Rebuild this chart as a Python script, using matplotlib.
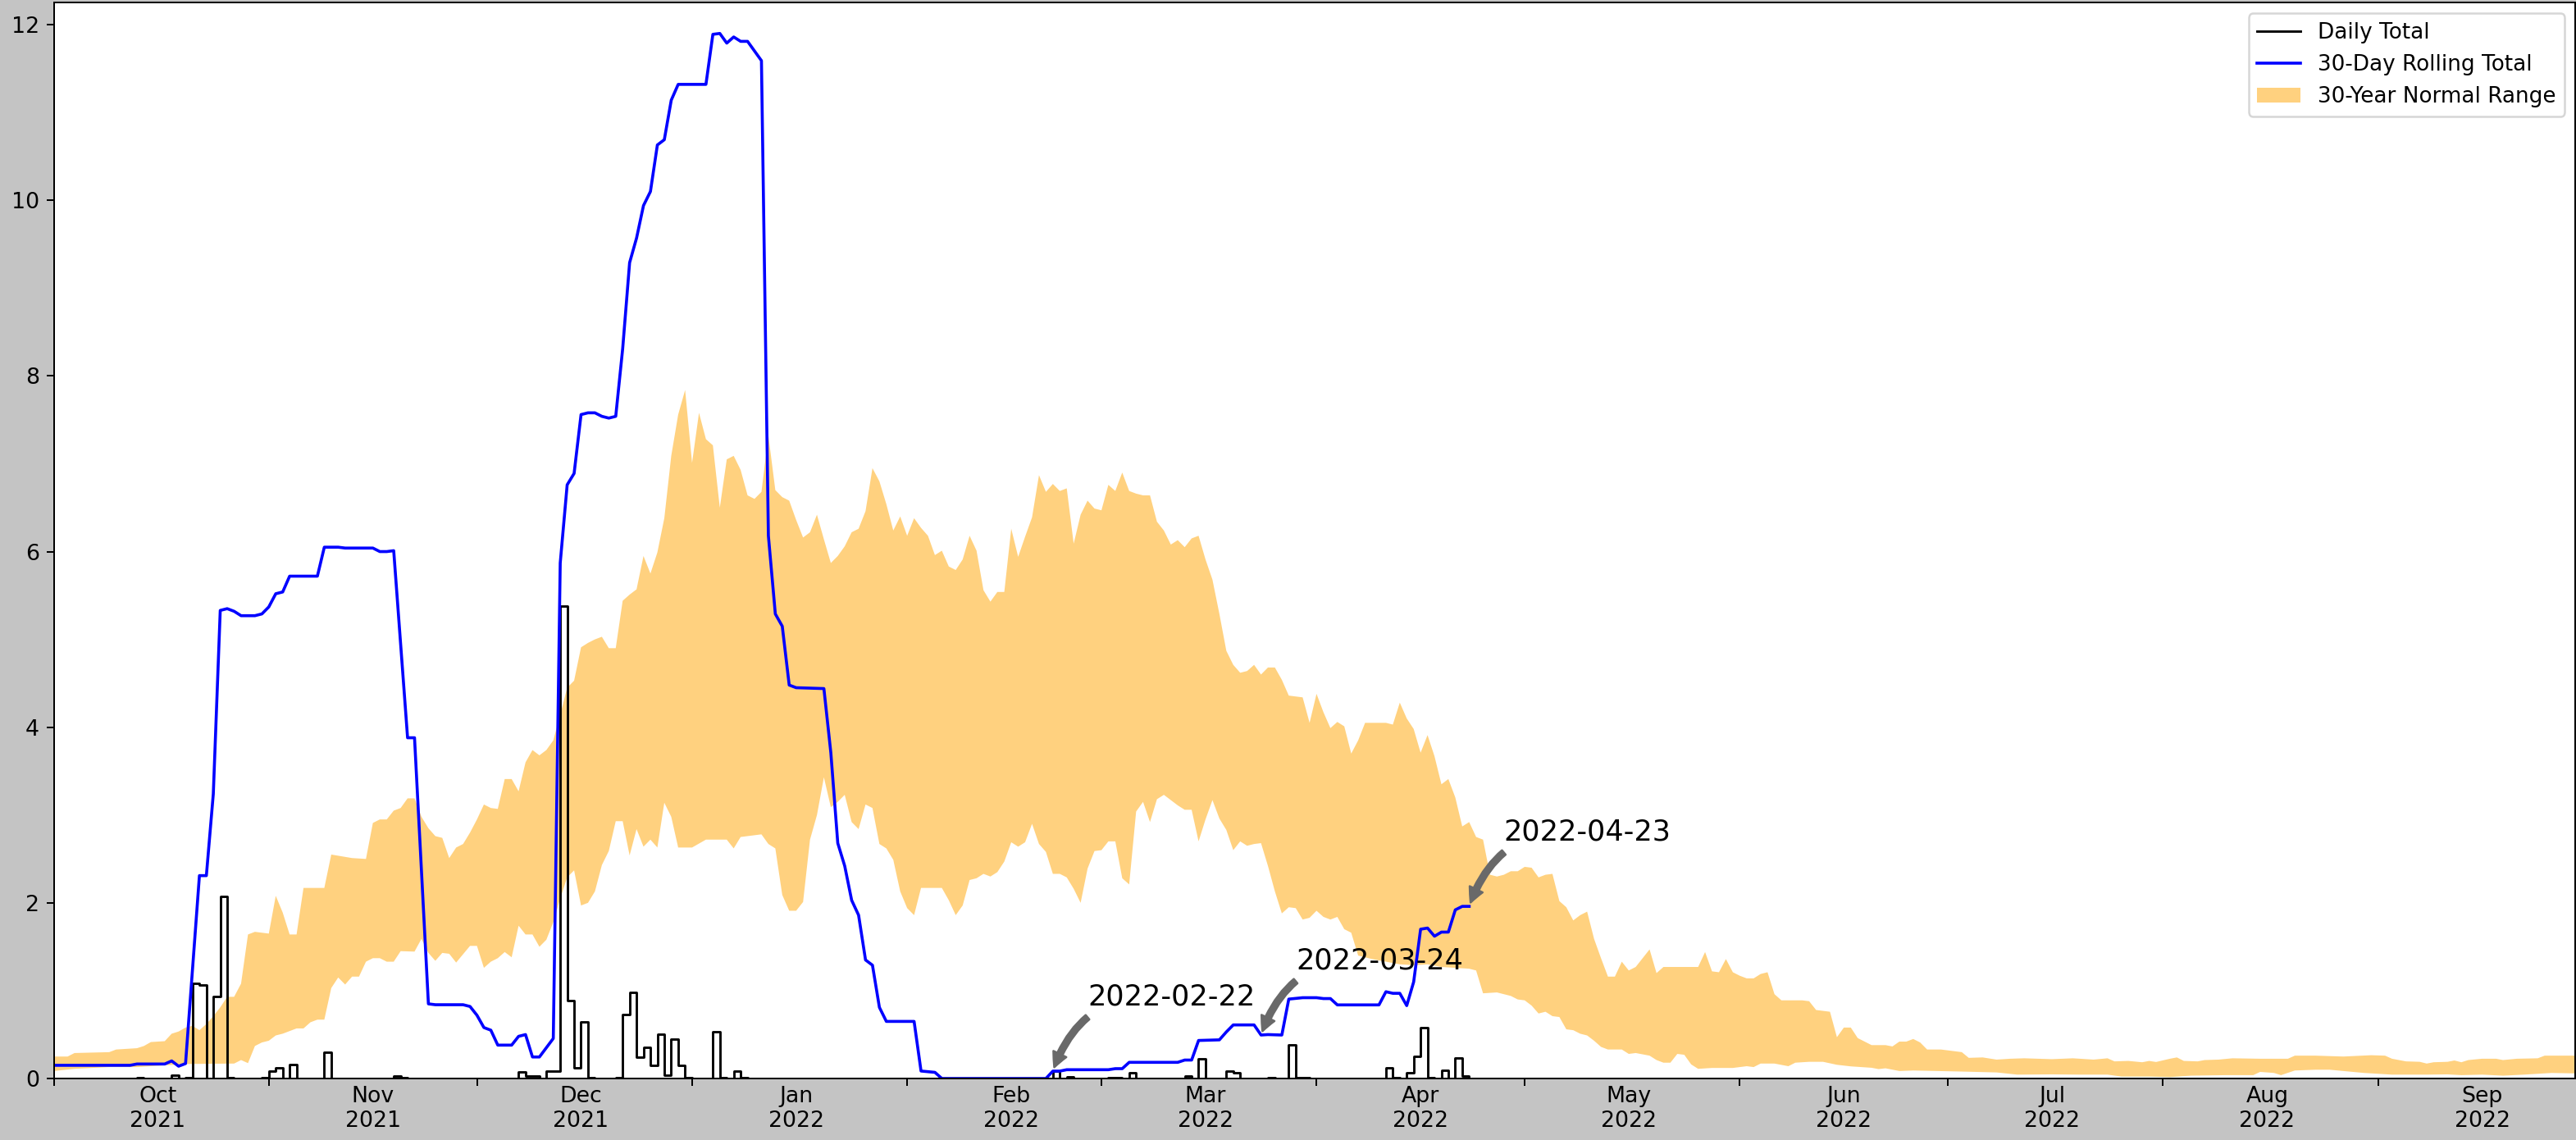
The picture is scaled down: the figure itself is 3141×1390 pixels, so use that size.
import numpy as np
import pandas as pd
import matplotlib
matplotlib.use("Agg")
import matplotlib.pyplot as plt
import matplotlib.dates as mdates
from matplotlib.ticker import MultipleLocator, NullFormatter

# ---------------- data (day offsets from 2021-10-01) ----------------
START = "2021-10-01"
LAST_DAY = 204          # last observed day (2022-04-23)
X_END_DAY = 363.4

rain_days = [12, 17, 19, 20, 21, 23, 24, 25, 30, 31, 32, 34, 39, 49, 50,
             67, 68, 69, 71, 72, 73, 74, 75, 76, 77, 81, 82, 83, 84, 85, 86,
             87, 88, 89, 90, 91, 95, 96, 98, 99,
             144, 146, 152, 153, 155, 163, 165, 169, 170, 175, 178, 179, 180,
             192, 193, 195, 196, 197, 198, 200, 202, 203]
rain_vals = [0.01, 0.035, 0.01, 1.08, 1.06, 0.93, 2.07, 0.005, 0.01, 0.08, 0.125, 0.155, 0.30, 0.025, 0.01,
             0.075, 0.03, 0.03, 0.085, 0.085, 5.38, 0.89, 0.12, 0.645, 0.01, 0.005, 0.73, 0.98, 0.24, 0.355, 0.15,
             0.505, 0.04, 0.45, 0.15, 0.01, 0.53, 0.01, 0.08, 0.005,
             0.08, 0.015, 0.01, 0.01, 0.065, 0.025, 0.22, 0.087, 0.065, 0.01, 0.38, 0.01, 0.01,
             0.125, 0.01, 0.065, 0.25, 0.575, 0.01, 0.095, 0.235, 0.03]

roll_days = [0, 11, 12, 16, 17, 18, 19, 21, 22, 23, 24, 25, 26, 27, 29, 30, 31, 32, 33, 34, 38, 39,
             41, 42, 46, 47, 48, 49, 51, 52, 54, 55, 59, 60, 61, 62, 63, 64, 66, 67, 68, 69, 70,
             72, 73, 74, 75, 76, 77, 78, 79, 80, 81, 82, 83, 84, 85, 86, 87, 88, 89, 90, 94, 95,
             96, 97, 98, 99, 100, 102, 103, 104, 105, 106, 107, 111, 112, 113, 114, 115, 116, 117,
             118, 119, 120, 124, 125, 127, 128, 143, 144, 145, 146, 152, 153, 154, 155, 162, 163,
             164, 165, 168, 169, 170, 173, 174, 175, 177, 178, 180, 182, 183, 184, 185, 191, 192,
             193, 194, 195, 196, 197, 198, 199, 200, 201, 202, 203, 204]
roll_vals = [0.15, 0.15, 0.165, 0.165, 0.20, 0.14, 0.17, 2.31, 2.31, 3.24, 5.33, 5.35, 5.32, 5.27, 5.27, 5.29, 5.37, 5.52, 5.54, 5.72, 5.72, 6.05,
             6.05, 6.04, 6.04, 6.00, 6.00, 6.01, 3.88, 3.88, 0.85, 0.84, 0.84, 0.82, 0.72, 0.58, 0.55, 0.38, 0.38, 0.48, 0.50, 0.245, 0.245,
             0.456, 5.87, 6.76, 6.89, 7.56, 7.58, 7.58, 7.54, 7.52, 7.54, 8.31, 9.29, 9.57, 9.94, 10.10, 10.63, 10.69, 11.14, 11.32, 11.32, 11.89,
             11.90, 11.79, 11.86, 11.81, 11.81, 11.59, 6.18, 5.29, 5.15, 4.48, 4.45, 4.44, 3.71, 2.68, 2.42, 2.03, 1.86, 1.35,
             1.29, 0.81, 0.65, 0.65, 0.085, 0.07, 0.0, 0.0, 0.084, 0.084, 0.10, 0.10, 0.112, 0.112, 0.184, 0.184, 0.21,
             0.21, 0.433, 0.44, 0.53, 0.61, 0.61, 0.495, 0.50, 0.495, 0.904, 0.92, 0.92, 0.91, 0.91, 0.838, 0.838, 0.988,
             0.97, 0.97, 0.83, 1.10, 1.70, 1.713, 1.62, 1.667, 1.667, 1.92, 1.96, 1.96]

upper_days = [0, 2, 3, 8, 9, 12, 13, 14, 16, 17, 18, 19, 20, 21, 22, 23, 24, 25, 26, 27, 28, 29, 31, 32, 33, 34, 35, 36, 39,
              40, 43, 45, 46, 47, 48, 49, 50, 51, 52, 53, 54, 55, 56, 57, 58, 59, 60, 61, 62, 63, 64, 65, 66, 67, 68, 69, 70,
              71, 72, 73, 74, 75, 76, 77, 78, 79, 80, 81, 82, 83, 84, 85, 86, 87, 88, 89, 90, 91, 92, 93, 94, 95, 96, 97,
              98, 99, 100, 101, 102, 103, 104, 105, 106, 107, 108, 109, 110, 111, 112, 113, 114, 115, 116, 117, 118, 119,
              120, 121, 122, 123, 124, 125, 126, 127, 128, 129, 130, 131, 132, 133, 134, 135, 136, 137, 138, 139, 140, 141,
              142, 143, 144, 145, 146, 147, 148, 149, 150, 151, 152, 153, 154, 155, 156, 157, 158, 159, 160, 161, 162, 163,
              164, 165, 166, 167, 168, 169, 170, 171, 172, 173, 174, 175, 176, 177, 178, 179, 180, 181, 182, 183, 184, 185,
              186, 187, 188, 189, 192, 193, 194, 195, 196, 197, 198, 199, 200, 201, 202, 203, 204, 205, 206, 207, 208, 209,
              210, 211, 212, 213, 214, 215, 216, 217, 218, 219, 220, 221, 222, 223, 224, 225, 226, 227, 228, 229, 230, 231,
              232, 237, 238, 239, 240, 241, 242, 243, 244, 245, 246, 247, 248, 249, 252, 253, 254, 256, 257, 258, 259, 260,
              262, 264, 265, 266, 267, 268, 269, 270, 272, 275, 276, 278, 280, 282, 284, 288, 291, 294, 296, 297, 299, 301,
              302, 303, 305, 306, 307, 309, 310, 312, 314, 318, 322, 323, 326, 330, 334, 336, 337, 339, 341, 342, 343, 345,
              346, 347, 348, 350, 352, 353, 355, 358, 359, 364]
upper_vals = [0.25, 0.25, 0.29, 0.30, 0.33, 0.345, 0.37, 0.415, 0.425, 0.51, 0.535, 0.58, 0.60, 0.55, 0.62, 0.71, 0.81, 0.93, 0.93, 1.08, 1.64, 1.67, 1.65, 2.08, 1.89, 1.64, 1.64, 2.17, 2.17,
              2.55, 2.51, 2.50, 2.91, 2.95, 2.95, 3.05, 3.08, 3.19, 3.19, 2.98, 2.85, 2.76, 2.74, 2.51, 2.63, 2.67, 2.80, 2.95, 3.12, 3.08, 3.07, 3.41, 3.41, 3.27, 3.60, 3.74, 3.68,
              3.74, 3.85, 4.14, 4.45, 4.53, 4.91, 4.96, 5.00, 5.03, 4.90, 4.90, 5.44, 5.51, 5.57, 5.95, 5.75, 5.99, 6.38, 7.09, 7.56, 7.84, 7.01, 7.58, 7.28, 7.21, 6.50, 7.05,
              7.09, 6.93, 6.64, 6.60, 6.68, 7.32, 6.70, 6.62, 6.58, 6.36, 6.16, 6.22, 6.42, 6.14, 5.87, 5.95, 6.06, 6.22, 6.26, 6.46, 6.95, 6.80,
              6.54, 6.24, 6.40, 6.18, 6.38, 6.27, 6.18, 5.96, 6.01, 5.83, 5.79, 5.91, 6.18, 6.01, 5.56, 5.43, 5.54, 5.54, 6.26, 5.94, 6.17, 6.39,
              6.87, 6.68, 6.77, 6.69, 6.72, 6.09, 6.42, 6.58, 6.49, 6.47, 6.76, 6.69, 6.90, 6.69, 6.66, 6.64, 6.64, 6.34, 6.24, 6.08, 6.13, 6.05,
              6.15, 6.18, 5.91, 5.68, 5.29, 4.87, 4.71, 4.62, 4.64, 4.71, 4.60, 4.68, 4.68, 4.54, 4.36, 4.35, 4.34, 4.05, 4.38, 4.17, 3.99, 4.06,
              4.01, 3.70, 3.85, 4.05, 4.05, 4.03, 4.28, 4.10, 3.98, 3.71, 3.91, 3.67, 3.35, 3.41, 3.20, 2.87, 2.92, 2.75, 2.72, 2.32, 2.30, 2.32,
              2.36, 2.36, 2.41, 2.40, 2.29, 2.32, 2.33, 2.02, 1.95, 1.80, 1.86, 1.90, 1.59, 1.37, 1.16, 1.16, 1.33, 1.23, 1.27, 1.37, 1.47, 1.20,
              1.27, 1.27, 1.44, 1.22, 1.21, 1.36, 1.21, 1.17, 1.14, 1.14, 1.19, 1.21, 0.96, 0.89, 0.89, 0.88, 0.78, 0.76, 0.47, 0.58, 0.58, 0.46,
              0.38, 0.38, 0.365, 0.42, 0.42, 0.45, 0.41, 0.33, 0.33, 0.30, 0.235, 0.24, 0.215, 0.225, 0.23, 0.22, 0.23, 0.215, 0.23, 0.195, 0.20, 0.185,
              0.20, 0.188, 0.225, 0.24, 0.20, 0.195, 0.21, 0.215, 0.23, 0.225, 0.225, 0.26, 0.26, 0.25, 0.265, 0.26, 0.225, 0.195, 0.19, 0.17, 0.185, 0.19,
              0.205, 0.185, 0.21, 0.225, 0.225, 0.21, 0.225, 0.23, 0.26, 0.26]

lower_days = [0, 3, 8, 12, 16, 19, 26, 27, 28, 29, 30, 31, 32, 33, 34, 35, 36, 37, 38, 39, 40, 41, 42, 43, 44, 45, 46, 47,
              48, 49, 50, 52, 53, 54, 55, 56, 57, 58, 59, 60, 61, 62, 63, 64, 65, 66, 67, 68, 69, 70, 71, 72, 73, 74, 75,
              76, 77, 78, 79, 80, 81, 82, 83, 84, 85, 86, 87, 88, 89, 90, 92, 94, 97, 98, 99, 102, 103, 104, 105, 106, 107,
              108, 109, 110, 111, 112, 113, 114, 115, 116, 117, 118, 119, 120, 121, 122, 123, 124, 125, 128, 129, 130, 131,
              132, 133, 134, 135, 136, 137, 138, 139, 140, 141, 142, 143, 144, 145, 146, 147, 148, 149, 150, 151, 152, 153,
              154, 155, 156, 157, 158, 159, 160, 161, 162, 163, 164, 165, 166, 167, 168, 169, 170, 171, 172, 173, 174, 175,
              176, 177, 178, 179, 180, 181, 182, 183, 184, 185, 186, 187, 188, 190, 192, 194, 196, 198, 200, 202, 204, 205,
              206, 208, 210, 211, 212, 213, 214, 215, 216, 217, 218, 219, 220, 221, 222, 223, 224, 226, 227, 228, 230, 231,
              232, 233, 234, 235, 236, 237, 239, 242, 244, 245, 246, 248, 250, 251, 253, 255, 257, 259, 262, 263, 264, 266,
              268, 275, 280, 283, 288, 292, 296, 298, 302, 305, 308, 313, 317, 318, 320, 321, 323, 326, 328, 330, 333, 337,
              342, 345, 347, 350, 353, 356, 360, 364]
lower_vals = [0.085, 0.11, 0.13, 0.13, 0.15, 0.165, 0.17, 0.21, 0.175, 0.37, 0.41, 0.43, 0.49, 0.51, 0.54, 0.57, 0.57, 0.64, 0.67, 0.67, 1.03, 1.15, 1.07, 1.16, 1.16, 1.33, 1.37, 1.37,
              1.33, 1.33, 1.45, 1.445, 1.59, 1.43, 1.34, 1.43, 1.42, 1.32, 1.415, 1.51, 1.51, 1.26, 1.33, 1.37, 1.44, 1.38, 1.74, 1.64, 1.64, 1.50, 1.58, 1.78, 2.05, 2.29, 2.37,
              1.97, 2.00, 2.13, 2.43, 2.59, 2.93, 2.93, 2.54, 2.84, 2.64, 2.72, 2.63, 3.14, 2.98, 2.63, 2.63, 2.72, 2.72, 2.62, 2.75, 2.78, 2.67, 2.62, 2.09, 1.91, 1.91,
              2.01, 2.72, 3.00, 3.43, 3.09, 3.15, 3.23, 2.92, 2.84, 3.12, 3.08, 2.67, 2.62, 2.49, 2.13, 1.94, 1.86, 2.17, 2.17, 2.03, 1.86, 1.97,
              2.26, 2.28, 2.33, 2.30, 2.35, 2.47, 2.69, 2.64, 2.69, 2.90, 2.67, 2.58, 2.33, 2.33, 2.29, 2.16, 2.00, 2.39, 2.59, 2.60, 2.70, 2.70,
              2.28, 2.21, 3.04, 3.15, 2.92, 3.18, 3.23, 3.17, 3.11, 3.06, 3.06, 2.70, 2.95, 3.17, 2.96, 2.83, 2.60, 2.70, 2.65, 2.67, 2.68, 2.42,
              2.13, 1.88, 1.95, 1.94, 1.81, 1.83, 1.91, 1.84, 1.81, 1.84, 1.70, 1.66, 1.40, 1.36, 1.33, 1.30, 1.29, 1.30, 1.27, 1.26, 1.25, 1.23,
              0.97, 0.98, 0.94, 0.90, 0.89, 0.83, 0.74, 0.76, 0.71, 0.70, 0.56, 0.55, 0.51, 0.49, 0.43, 0.36, 0.33, 0.33, 0.28, 0.29, 0.26, 0.21,
              0.18, 0.18, 0.28, 0.27, 0.16, 0.11, 0.12, 0.12, 0.14, 0.13, 0.17, 0.17, 0.14, 0.18, 0.19, 0.19, 0.156, 0.138, 0.122, 0.107, 0.116, 0.085,
              0.091, 0.079, 0.069, 0.044, 0.047, 0.044, 0.044, 0.022, 0.022, 0.016, 0.032, 0.038, 0.038, 0.075, 0.063, 0.038, 0.091, 0.10, 0.10, 0.085, 0.063, 0.044,
              0.044, 0.047, 0.038, 0.044, 0.032, 0.044, 0.063, 0.057]

annot_days = [144, 174, 204]
annot_labels = ["2022-02-22", "2022-03-24", "2022-04-23"]


def to_num(days):
    d = pd.Timestamp(START) + pd.to_timedelta(np.asarray(days, dtype=float), unit="D")
    return mdates.date2num(np.asarray(d.values))


daily = np.zeros(LAST_DAY + 1)
daily[np.array(rain_days)] = rain_vals

# ---------------- figure ----------------
W, H, DPI = 3141, 1390, 180
fig = plt.figure(figsize=(W / DPI, H / DPI), dpi=DPI, facecolor="#c4c4c4")
left, right, top, bottom = 65.5, 3140, 3.3, 1315
ax = fig.add_axes([left / W, 1 - bottom / H, (right - left) / W, (bottom - top) / H])
ax.set_facecolor("white")

poly_x = np.concatenate([to_num(upper_days), to_num(lower_days)[::-1]])
poly_y = np.concatenate([np.array(upper_vals), np.array(lower_vals)[::-1]])
fill = ax.fill(poly_x, poly_y, color="orange", alpha=0.5, lw=0, label="30-Year Normal Range")[0]

l_daily, = ax.plot(to_num(np.arange(LAST_DAY + 1)), daily, drawstyle="steps-post",
                   color="black", lw=1.15, label="Daily Total")
l_roll, = ax.plot(to_num(roll_days), roll_vals, color="blue", lw=1.45, label="30-Day Rolling Total")

roll_lookup = dict(zip(roll_days, roll_vals))
for d, lab in zip(annot_days, annot_labels):
    v = roll_lookup[d]
    ax.annotate(lab, xy=(to_num([d])[0], v), xytext=(to_num([d + 5])[0], v + 0.755),
                fontsize=14,
                arrowprops=dict(arrowstyle="simple", connectionstyle="arc3,rad=0.4",
                                color="dimgray"))

ax.set_xlim(to_num([0])[0], to_num([X_END_DAY])[0])
ax.set_ylim(0, 12.25)
ax.yaxis.set_major_locator(MultipleLocator(2))

ax.xaxis.set_major_locator(mdates.MonthLocator())
ax.xaxis.set_major_formatter(NullFormatter())
ax.xaxis.set_minor_locator(mdates.MonthLocator(bymonthday=16))
ax.xaxis.set_minor_formatter(mdates.DateFormatter("%b\n%Y"))
ax.tick_params(axis="x", which="minor", length=0)
ax.tick_params(axis="both", which="major", labelsize=10.7)
ax.tick_params(axis="x", which="minor", labelsize=10.7)
for lbl in ax.xaxis.get_minorticklabels():
    lbl.set_horizontalalignment("center")

ax.legend(handles=[l_daily, l_roll, fill], loc="upper right", fontsize=10.5)

fig.savefig("out.png", dpi=DPI, facecolor=fig.get_facecolor())
